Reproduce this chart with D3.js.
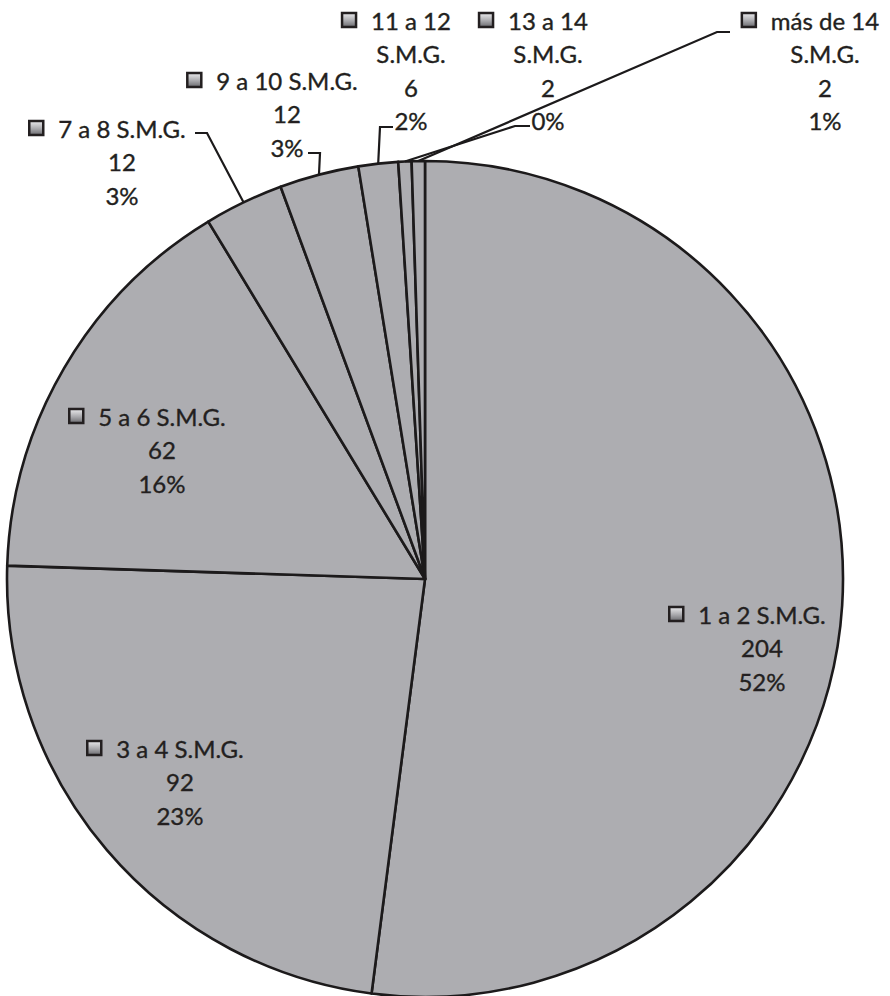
<!DOCTYPE html>
<html>
<head>
<meta charset="utf-8">
<script src="https://cdn.jsdelivr.net/npm/d3@7/dist/d3.min.js"></script>
<style>
  html, body { margin: 0; padding: 0; background: #ffffff; }
  svg { display: block; }
</style>
</head>
<body>
<svg id="chart" width="890" height="996"></svg>
<script>
// ---- data ----
const categories = ["1 a 2 S.M.G.", "3 a 4 S.M.G.", "5 a 6 S.M.G.", "7 a 8 S.M.G.", "9 a 10 S.M.G.", "11 a 12 S.M.G.", "13 a 14 S.M.G.", "más de 14 S.M.G."];
const values = [204, 92, 62, 12, 12, 6, 2, 2];
const percentLabels = ["52%", "23%", "16%", "3%", "3%", "2%", "0%", "1%"];
const nameLines = [
  ["1 a 2 S.M.G."], ["3 a 4 S.M.G."], ["5 a 6 S.M.G."], ["7 a 8 S.M.G."],
  ["9 a 10 S.M.G."], ["11 a 12", "S.M.G."], ["13 a 14", "S.M.G."], ["más de 14", "S.M.G."]
];

// ---- layout (label placement, not data) ----
const cx = 425, cy = 579, R = 418;
const labelPos = [
  {x: 762, y: 614},
  {x: 180, y: 748},
  {x: 162, y: 416},
  {x: 122, y: 128},
  {x: 287, y: 80},
  {x: 411, y: 20},
  {x: 548, y: 20},
  {x: 825, y: 20}
];
const leaders = [
  null, null, null,
  {elbow: [207, 133], end: [195, 133]},
  {elbow: [320, 153], end: [308, 153]},
  {elbow: [380, 127], end: [393, 127]},
  {elbow: [515, 126], end: [530, 126]},
  {elbow: [717, 32], end: [730, 32]}
];
const lineH = 33.5;

const svg = d3.select("#chart");
const defs = svg.append("defs");
const mg = defs.append("linearGradient").attr("id", "mk").attr("x1", 0).attr("y1", 0).attr("x2", 0).attr("y2", 1);
mg.append("stop").attr("offset", "0%").attr("stop-color", "#ececee");
mg.append("stop").attr("offset", "55%").attr("stop-color", "#a9a9ad");
mg.append("stop").attr("offset", "100%").attr("stop-color", "#6a6a6e");

const pie = d3.pie().sort(null).value(d => d).startAngle(0).endAngle(2 * Math.PI);
const arcs = pie(values);
const arc = d3.arc().innerRadius(0).outerRadius(R);
const edgeArc = d3.arc().innerRadius(R).outerRadius(R);

const g = svg.append("g").attr("transform", `translate(${cx},${cy})`);
g.selectAll("path.slice").data(arcs).join("path")
  .attr("class", "slice")
  .attr("d", arc)
  .attr("fill", "#adadb1")
  .attr("stroke", "#1c1a1b")
  .attr("stroke-width", 2.6)
  .attr("stroke-linejoin", "round");

// leader lines
arcs.forEach((a, i) => {
  const L = leaders[i];
  if (!L) return;
  const c = edgeArc.centroid(a);
  const p0 = [cx + c[0], cy + c[1]];
  svg.append("polyline")
    .attr("points", [p0, L.elbow, L.end].map(p => p.join(",")).join(" "))
    .attr("fill", "none")
    .attr("stroke", "#1c1a1b")
    .attr("stroke-width", 2.2);
});

// labels
const font = "Lato, 'Open Sans', sans-serif";
arcs.forEach((a, i) => {
  const pos = labelPos[i];
  const lines = nameLines[i].concat([String(values[i]), percentLabels[i]]);
  const lg = svg.append("g");
  let firstText = null;
  lines.forEach((t, k) => {
    const tx = lg.append("text")
      .attr("x", pos.x)
      .attr("y", pos.y + k * lineH)
      .attr("text-anchor", "middle")
      .attr("dominant-baseline", "central")
      .attr("font-family", font)
      .attr("font-size", 24)
      .attr("fill", "#231f20")
      .attr("stroke", "#231f20")
      .attr("stroke-width", 0.35)
      .text(t);
    if (k === 0) firstText = tx;
  });
  const bb = firstText.node().getBBox();
  const ms = 14;
  lg.append("rect")
    .attr("x", bb.x - 15 - ms)
    .attr("y", pos.y - ms / 2)
    .attr("width", ms)
    .attr("height", ms)
    .attr("fill", "url(#mk)")
    .attr("stroke", "#231f20")
    .attr("stroke-width", 2.5);
});
</script>
</body>
</html>
